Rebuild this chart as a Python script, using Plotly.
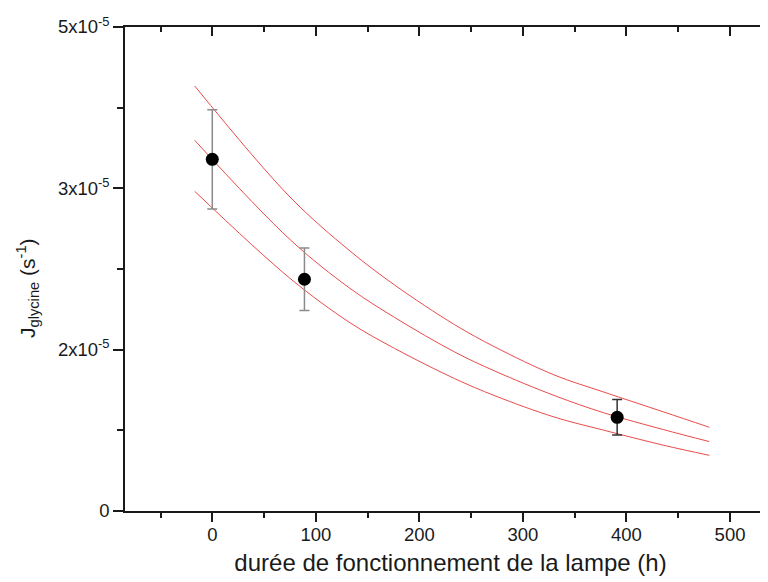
import plotly.graph_objects as go

# Measured points
x_pts = [0, 89, 391]
y_pts = [3.633e-5, 2.394e-5, 0.968e-5]
y_err = [0.513e-5, 0.322e-5, 0.183e-5]

# Fitted curves
x_curve = [-17, 75, 133, 176, 234, 273, 331, 378, 436, 480]
y_upper = [4.391e-5, 3.244e-5, 2.686e-5, 2.335e-5, 1.925e-5, 1.694e-5, 1.402e-5, 1.229e-5, 1.023e-5, 0.865e-5]
y_mid = [3.830e-5, 2.805e-5, 2.300e-5, 2.000e-5, 1.643e-5, 1.445e-5, 1.190e-5, 1.015e-5, 0.840e-5, 0.717e-5]
y_lower = [3.303e-5, 2.404e-5, 1.945e-5, 1.680e-5, 1.368e-5, 1.190e-5, 0.968e-5, 0.835e-5, 0.679e-5, 0.575e-5]

# Axis ticks
x_ticks = [0, 100, 200, 300, 400, 500]
y_tickvals = [0, 5e-5 / 3, 10e-5 / 3, 5e-5]
y_ticktext = ["0", "2x10<sup>-5</sup>", "3x10<sup>-5</sup>", "5x10<sup>-5</sup>"]

err_colors = ["#8a8a8a", "#8a8a8a", "#333333"]
FONT = "Liberation Sans, Arial, sans-serif"

# layout geometry (figure pixels)
W, H = 768, 582
ML, MR, MT, MB = 117, 0, 19, 79
plot_w = W - ML - MR
plot_h = H - MT - MB

fig = go.Figure()
for yc in (y_upper, y_mid, y_lower):
    fig.add_trace(go.Scatter(x=x_curve, y=yc, mode="lines", line=dict(color="rgb(235,75,75)", width=1.0, shape="spline"),
                             showlegend=False, hoverinfo="skip"))
for i in range(len(x_pts)):
    fig.add_trace(go.Scatter(x=[x_pts[i]], y=[y_pts[i]], mode="markers",
                             marker=dict(color="black", size=13),
                             error_y=dict(type="data", array=[y_err[i]], visible=True, color=err_colors[i], thickness=1.5, width=5),
                             showlegend=False))
# invisible trace for top axis
fig.add_trace(go.Scatter(x=[0], y=[0], xaxis="x2", mode="markers", marker=dict(opacity=0), showlegend=False, hoverinfo="skip"))

xr = [-84.3, 544.4]
fig.update_layout(
    width=W, height=H,
    margin=dict(l=ML, r=MR, t=MT, b=MB),
    plot_bgcolor="white", paper_bgcolor="white",
    font=dict(family=FONT, size=18, color="#1a1a1a"),
    xaxis=dict(range=xr, tickvals=x_ticks, ticks="outside", ticklen=9, tickwidth=1.5, tickcolor="#1a1a1a",
               showline=True, linecolor="#1a1a1a", linewidth=1.5, showgrid=False, zeroline=False, automargin=False,
               tickfont=dict(size=18.5), ticklabelstandoff=-3,
               minor=dict(ticks="outside", ticklen=5, tickwidth=1.5, dtick=50, tick0=0, tickcolor="#1a1a1a", showgrid=False),
               title=dict(text="durée de fonctionnement de la lampe (h)", font=dict(size=24), standoff=10)),
    xaxis2=dict(range=xr, overlaying="x", side="top", anchor="y", tickvals=x_ticks, ticks="inside", ticklen=9, tickwidth=1.5,
                tickcolor="#1a1a1a", showline=True, linecolor="#1a1a1a", linewidth=1.5, showgrid=False, zeroline=False,
                showticklabels=False, automargin=False,
                minor=dict(ticks="inside", ticklen=5, tickwidth=1.5, dtick=50, tick0=0, tickcolor="#1a1a1a", showgrid=False)),
    yaxis=dict(range=[0, 5e-5], tickvals=y_tickvals, ticktext=y_ticktext, ticks="outside", ticklen=10, tickwidth=1.5,
               tickcolor="#1a1a1a", showline=True, linecolor="#1a1a1a", linewidth=1.5, showgrid=False, zeroline=False,
               automargin=False, tickfont=dict(size=18.5),
               minor=dict(ticks="outside", ticklen=6, tickwidth=1.5, tickvals=[2.5e-5/3, 7.5e-5/3, 12.5e-5/3],
                          tickcolor="#1a1a1a", showgrid=False)),
    annotations=[dict(text="J<sub>glycine</sub> (s<sup>-1</sup>)", textangle=-90, showarrow=False,
                      xref="paper", yref="paper", x=(20 - ML) / plot_w, y=(H - MB - 280) / plot_h,
                      xanchor="center", yanchor="middle", font=dict(size=21, family=FONT, color="#1a1a1a"))],
)
fig.write_html("out.html")
